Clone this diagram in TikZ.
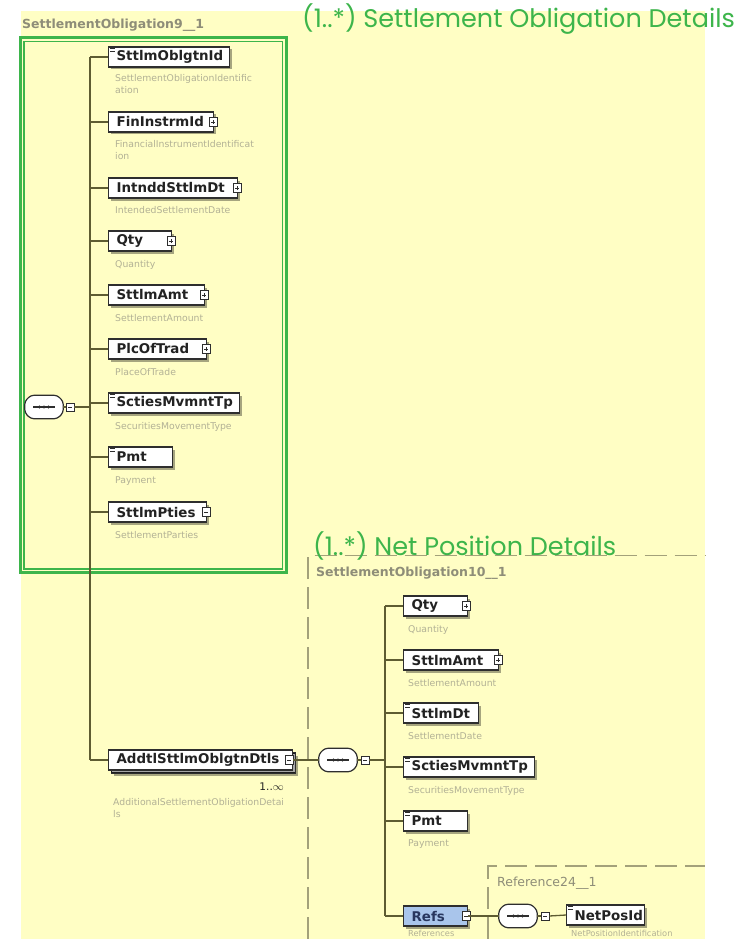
\documentclass[tikz,border=0pt]{standalone}
\usepackage{fontspec}
\setmainfont{DejaVu Sans}
\newfontfamily\greenfont{Poppins}
\usetikzlibrary{shadows}
\definecolor{bgy}{HTML}{FFFEC4}
\definecolor{grn}{HTML}{3DB54B}
\definecolor{connc}{HTML}{5E5C32}
\definecolor{boxc}{HTML}{2E2E2E}
\definecolor{txtc}{HTML}{222222}
\definecolor{descc}{HTML}{B2B195}
\definecolor{titc}{HTML}{8E8D78}
\definecolor{dashc}{HTML}{A3A17A}
\definecolor{refblue}{HTML}{A9C5EB}
\newcommand\Elem[6]{%
  \pgfmathsetmacro\elemtw{#4-16}%
  \node[elem,text width=\elemtw pt,#6] (#1) at (#2,#3) {#5};}
\newcommand\MarkEq[1]{%
  \draw[line width=0.9pt,boxc] ([xshift=2pt,yshift=-2.5pt]#1.north west) -- ++(5,0);
  \draw[line width=0.9pt,boxc] ([xshift=2pt,yshift=-5pt]#1.north west) -- ++(5,0);}
\newcommand\IcoPlus[2]{%
  \node[ico] (#1) at (#2) {};
  \draw[line width=0.7pt,boxc] ([xshift=-2pt]#1.center) -- ([xshift=2pt]#1.center);
  \draw[line width=0.7pt,boxc] ([yshift=-2pt]#1.center) -- ([yshift=2pt]#1.center);}
\newcommand\IcoMinus[2]{%
  \node[ico] (#1) at (#2) {};
  \draw[line width=0.7pt,boxc] ([xshift=-2pt]#1.center) -- ([xshift=2pt]#1.center);}
\newcommand\SeqPath[1]{([xshift=6pt]#1.north west) -- ([xshift=-6pt]#1.north east) -- ([yshift=-6pt]#1.north east) -- ([yshift=6pt]#1.south east) -- ([xshift=-6pt]#1.south east) -- ([xshift=6pt]#1.south west) -- ([yshift=6pt]#1.south west) -- ([yshift=-6pt]#1.north west) -- cycle}
\newcommand\SeqSym[3]{%
  \node[seqsym] (#1) at (#2,#3) {};
  \fill[black,opacity=0.3,rounded corners=3pt,xshift=2pt,yshift=-2pt] \SeqPath{#1};
  \draw[boxc,fill=white,line width=1.2pt,rounded corners=3pt] \SeqPath{#1};
  \draw[line width=1.1pt,boxc] ([xshift=-11pt]#1.center) -- ([xshift=11pt]#1.center);
  \foreach \dx in {-4.5,0,4.5} \fill[boxc] ([xshift=\dx pt]#1.center) circle (1.7pt);}
\tikzset{
  conn/.style={draw=connc,line width=1.3pt},
  elem/.style={draw=boxc,line width=1.2pt,fill=white,minimum height=20pt,
    inner xsep=8pt,inner ysep=0pt,anchor=west,align=left,
    font=\fontsize{13.4}{15}\selectfont\bfseries,text=txtc,
    drop shadow={shadow xshift=2.5pt,shadow yshift=-2.5pt,fill=black,opacity=0.35}},
  desc/.style={anchor=north west,inner sep=0pt,font=\fontsize{9.3}{12}\selectfont,
    text=descc,align=left},
  ico/.style={draw=boxc,fill=white,line width=0.8pt,minimum width=8pt,
    minimum height=9pt,inner sep=0pt},
  sbox/.style={draw=boxc,fill=white,line width=0.8pt,minimum size=8pt,inner sep=0pt},
  seqsym/.style={rectangle,minimum width=38pt,minimum height=23pt,inner sep=0pt},
  titl/.style={anchor=west,inner sep=0pt,text=titc,font=\fontsize{12.5}{14}\selectfont\bfseries},
  glab/.style={anchor=base west,inner sep=0pt,text=grn,font=\greenfont\fontsize{25.5}{28}\selectfont},
  dashbox/.style={draw=dashc,line width=1.1pt,dash pattern=on 22pt off 8pt}
}
\begin{document}
\begin{tikzpicture}[x=1pt,y=-1pt]
\useasboundingbox (0,0) rectangle (735,939);
\clip (0,0) rectangle (735,939);
\fill[white] (0,0) rectangle (735,939);
\fill[bgy] (21,11) rectangle (705,939);

% dashed group boxes
\draw[dashbox] (308,939) -- (308,555.5) -- (705,555.5);
\draw[dashbox] (488,939) -- (488,866) -- (705,866);

% green highlight box
\draw[grn,line width=3pt] (20.5,38) rectangle (286,572.5);
\draw[grn,line width=1.2pt] (24,41.5) rectangle (282.5,569);

% titles
\node[titl] (t1) at (22,25) {SettlementObligation9\_\_1};
\node[titl] (t2) at (316,573) {SettlementObligation10\_\_1};
\node[anchor=west,inner sep=0pt,text=titc,font=\fontsize{12.5}{14}\selectfont] (t3) at (497,883) {Reference24\_\_1};

% left tree
\coordinate (b1t) at (90,57);
\coordinate (b1b) at (90,760);
\draw[conn] (b1t) -- (b1b);

\Elem{e1}{108}{57}{121}{SttlmOblgtnId}{}
\Elem{e2}{108}{122}{105}{FinInstrmId}{}
\Elem{e3}{108}{188}{129}{IntnddSttlmDt}{}
\Elem{e4}{108}{241}{63}{Qty}{}
\Elem{e5}{108}{295}{96}{SttlmAmt}{}
\Elem{e6}{108}{349}{98}{PlcOfTrad}{}
\Elem{e7}{108}{403}{131}{SctiesMvmntTp}{}
\Elem{e8}{108}{457}{64}{Pmt}{}
\Elem{e9}{108}{512}{98}{SttlmPties}{}
\node[elem,minimum width=184pt] (e10b) at (111,763) {};
\Elem{e10}{108}{760}{184}{AddtlSttlmOblgtnDtls}{}

\foreach \n in {e1,e2,e3,e4,e5,e6,e7,e8,e9,e10}
  \draw[conn] (\n.west -| b1t) -- (\n.west);

\MarkEq{e1}
\MarkEq{e7}
\MarkEq{e8}
\IcoPlus{e2i}{[xshift=-1pt]e2.east}
\IcoPlus{e3i}{[xshift=-1pt]e3.east}
\IcoPlus{e4i}{[xshift=-1pt]e4.east}
\IcoPlus{e5i}{[xshift=-1pt]e5.east}
\IcoPlus{e6i}{[xshift=-1pt]e6.east}
\IcoMinus{e9i}{[xshift=-1pt]e9.east}
\IcoMinus{e10i}{[xshift=-4pt]e10.east}

\SeqSym{s1}{44}{407}
\node[sbox] (sb1) at (70,407) {};
\draw[line width=0.7pt,boxc] ([xshift=-2pt]sb1.center) -- ([xshift=2pt]sb1.center);
\draw[conn] (s1.east) -- (sb1.west);
\draw[conn] (sb1.east) -- (sb1.east -| b1t);

\node[desc] (d1) at (115,74) {SettlementObligationIdentific\\ation};
\node[desc] (d2) at (115,140) {FinancialInstrumentIdentificat\\ion};
\node[desc] (d3) at (115,206) {IntendedSettlementDate};
\node[desc] (d4) at (115,260) {Quantity};
\node[desc] (d5) at (115,314) {SettlementAmount};
\node[desc] (d6) at (115,368) {PlaceOfTrade};
\node[desc] (d7) at (115,422) {SecuritiesMovementType};
\node[desc] (d8) at (115,477) {Payment};
\node[desc] (d9) at (115,531) {SettlementParties};
\node[desc] (d10) at (113,798) {AdditionalSettlementObligationDetai\\ls};
\node[anchor=east,inner sep=0pt,text=txtc,font=\fontsize{10.5}{12}\selectfont] (m10) at (284,787) {1..$\infty$};

% right tree
\SeqSym{s2}{338}{760}
\node[sbox] (sb2) at (365,760) {};
\draw[line width=0.7pt,boxc] ([xshift=-2pt]sb2.center) -- ([xshift=2pt]sb2.center);
\draw[conn] (e10.east) -- (s2.west);
\draw[conn] (s2.east) -- (sb2.west);
\coordinate (b2t) at (385,606);
\coordinate (b2b) at (385,916);
\draw[conn] (b2t) -- (b2b);
\draw[conn] (sb2.east) -- (sb2.east -| b2t);

\Elem{r1}{403}{606}{64}{Qty}{}
\Elem{r2}{403}{660}{95}{SttlmAmt}{}
\Elem{r3}{403}{713}{75}{SttlmDt}{}
\Elem{r4}{403}{767}{131}{SctiesMvmntTp}{}
\Elem{r5}{403}{821}{64}{Pmt}{}
\Elem{r6}{403}{916}{64}{Refs}{fill=refblue,text={rgb,255:red,40;green,55;blue,95}}
\foreach \n in {r1,r2,r3,r4,r5,r6}
  \draw[conn] (\n.west -| b2t) -- (\n.west);
\MarkEq{r3}
\MarkEq{r4}
\MarkEq{r5}
\IcoPlus{r1i}{[xshift=-2pt]r1.east}
\IcoPlus{r2i}{[xshift=-1pt]r2.east}
\IcoMinus{r6i}{[xshift=-2pt]r6.east}

\node[desc] (rd1) at (408,625) {Quantity};
\node[desc] (rd2) at (408,679) {SettlementAmount};
\node[desc] (rd3) at (408,732) {SettlementDate};
\node[desc] (rd4) at (408,786) {SecuritiesMovementType};
\node[desc] (rd5) at (408,840) {Payment};
\node[desc,font=\fontsize{8.3}{10}\selectfont] (rd6) at (408,929.5) {References};

\SeqSym{s3}{518}{916}
\node[sbox] (sb3) at (545,916) {};
\draw[line width=0.7pt,boxc] ([xshift=-2pt]sb3.center) -- ([xshift=2pt]sb3.center);
\draw[conn] (r6.east) -- (s3.west);
\draw[conn] (s3.east) -- (sb3.west);
\Elem{n1}{566}{915}{78}{NetPosId}{}
\MarkEq{n1}
\draw[conn] (sb3.east) -- (n1.west);
\node[desc,font=\fontsize{8.3}{10}\selectfont] (nd1) at (571,929.5) {NetPositionIdentification};

% green labels
\node[glab] (g1) at (302,28) {(1..*) Settlement Obligation Details};
\node[glab] (g2) at (313,555) {(1..*) Net Position Details};
\end{tikzpicture}
\end{document}
